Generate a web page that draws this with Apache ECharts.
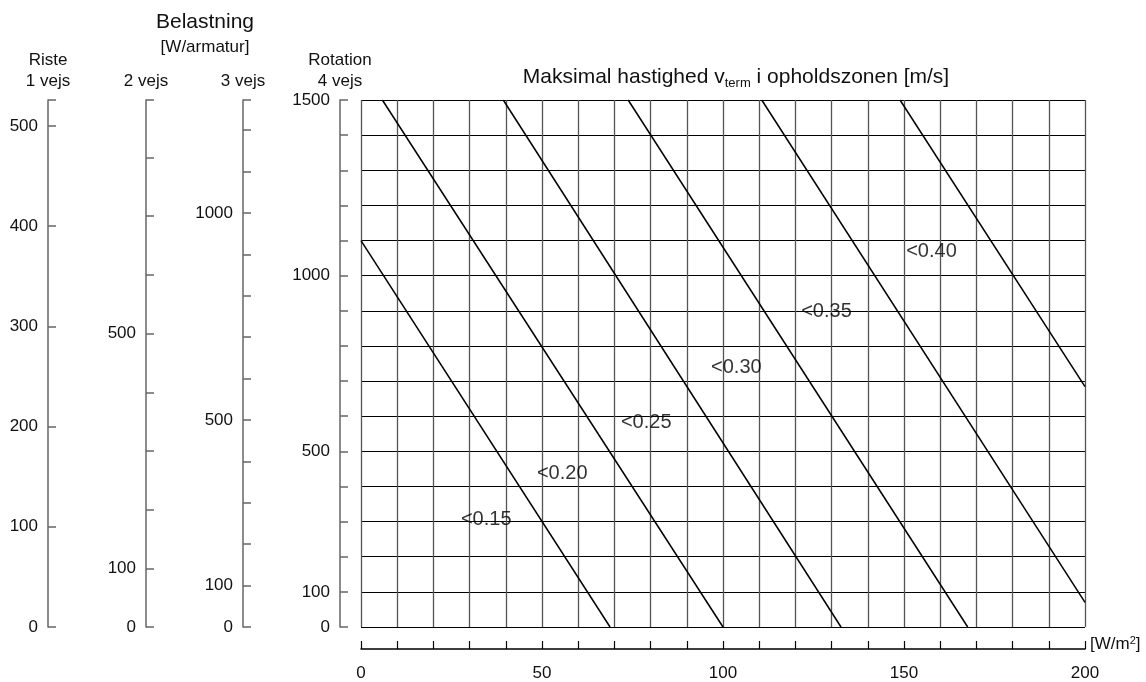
<!DOCTYPE html>
<html><head><meta charset="utf-8">
<script src="https://cdn.jsdelivr.net/npm/echarts@6/dist/echarts.min.js"></script>
<style>html,body{margin:0;padding:0;background:#fff}#c{width:1146px;height:682px}</style>
</head><body><div id="c"></div>
<script>
// ---- data ----
const xLabelValues = [0, 50, 100, 150, 200];
const lineNames = ['<0.15', '<0.20', '<0.25', '<0.30', '<0.35', '<0.40'];
const line015 = [[0, 1100], [68.8, 0]];
const line020 = [[5.9, 1500], [100, 0]];
const line025 = [[39.3, 1500], [132.6, 0]];
const line030 = [[73.8, 1500], [167.6, 0]];
const line035 = [[110.7, 1500], [200, 70]];
const line040 = [[148.9, 1500], [200, 684]];
const labelAt = [[27.6, 305], [48.6, 436], [71.8, 582], [96.7, 739], [121.6, 898], [150.6, 1068]];
const riste1Labels = [0, 100, 200, 300, 400, 500];
const vejs2Labels = [0, 100, 500];
const vejs3Labels = [0, 100, 500, 1000];
const vejs4Labels = [0, 100, 500, 1000, 1500];
const riste1Max = 526;
const vejs2Max = 898;
const vejs3Max = 1273;
const vejs4Max = 1500;

const FONT = '"Liberation Sans", Arial, Helvetica, sans-serif';
const TXT = '#111';
const AX = '#666';

function sideAxis(name, max, labels, offset, main) {
  return {
    type: 'value', position: 'left', offset: offset, min: 0, max: max, interval: 100,
    name: name, nameLocation: 'end', nameGap: 8,
    nameTextStyle: { fontSize: 17, color: TXT, lineHeight: 21, fontFamily: FONT, align: 'center' },
    axisLine: { show: true, onZero: false, lineStyle: { color: AX, width: 1.5 } },
    axisTick: { show: true, inside: true, length: 8, lineStyle: { color: AX, width: 1.5 } },
    axisLabel: { margin: 10, fontSize: 17, color: TXT, fontFamily: FONT,
      formatter: function (v) { return labels.indexOf(v) >= 0 ? String(v) : ''; } },
    splitLine: main ? { show: true, lineStyle: { color: '#000', width: 1 } } : { show: false }
  };
}

const chart = echarts.init(document.getElementById('c'), null, { renderer: 'canvas' });
const lines = [line015, line020, line025, line030, line035, line040];
const series = lines.map(function (d, i) {
  return { type: 'line', name: lineNames[i], data: d, xAxisIndex: 0, yAxisIndex: 0,
    showSymbol: false, symbol: 'none', silent: true,
    lineStyle: { color: '#000', width: 1.5 } };
});
series.push({
  type: 'scatter', data: labelAt, xAxisIndex: 0, yAxisIndex: 0, symbolSize: 0, silent: true,
  itemStyle: { color: '#000' },
  label: { show: true, position: 'right', distance: 0, fontSize: 20, color: '#000', fontFamily: FONT,
    formatter: function (p) { return lineNames[p.dataIndex]; } }
});

chart.setOption({
  animation: false,
  backgroundColor: '#fff',
  textStyle: { fontFamily: FONT },
  title: [
    { text: 'Belastning', subtext: '[W/armatur]', left: 200, top: 7, textAlign: 'center', itemGap: 6,
      textStyle: { fontSize: 21, fontWeight: 'normal', color: TXT, fontFamily: FONT },
      subtextStyle: { fontSize: 17, color: TXT, fontFamily: FONT } },
    { text: '{a|Maksimal hastighed v}{s|term}{a| i opholdszonen [m/s]}', left: 731, top: 59, textAlign: 'center',
      textStyle: { fontWeight: 'normal', color: TXT, fontFamily: FONT,
        rich: { a: { fontSize: 21, color: TXT, fontFamily: FONT, lineHeight: 26 },
                s: { fontSize: 13, color: TXT, fontFamily: FONT, verticalAlign: 'bottom', lineHeight: 14 } } } }
  ],
  grid: { left: 361, right: 61, top: 100, bottom: 55, containLabel: false },
  xAxis: {
    type: 'value', min: 0, max: 200, interval: 10, position: 'bottom', offset: 22,
    name: '{a|[W/m}{p|2}{a|]}', nameLocation: 'end', nameGap: 5,
    nameTextStyle: { padding: [0, 0, 10, 0], rich: { a: { fontSize: 17, color: TXT, fontFamily: FONT },
                             p: { fontSize: 11, color: TXT, fontFamily: FONT, verticalAlign: 'top' } } },
    axisLine: { show: true, onZero: false, lineStyle: { color: '#000', width: 1.5 } },
    axisTick: { show: true, inside: true, length: 8, lineStyle: { color: '#000', width: 1.2 } },
    axisLabel: { margin: 16, fontSize: 17, color: TXT, fontFamily: FONT,
      formatter: function (v) { return xLabelValues.indexOf(v) >= 0 ? String(v) : ''; } },
    splitLine: { show: true, lineStyle: { color: '#555', width: 1.3 } }
  },
  yAxis: [
    sideAxis('Rotation\n4 vejs', vejs4Max, vejs4Labels, 21, true),
    sideAxis('3 vejs', vejs3Max, vejs3Labels, 118, false),
    sideAxis('2 vejs', vejs2Max, vejs2Labels, 215, false),
    sideAxis('Riste\n1 vejs', riste1Max, riste1Labels, 313, false)
  ],
  series: series
});
</script>
</body></html>
